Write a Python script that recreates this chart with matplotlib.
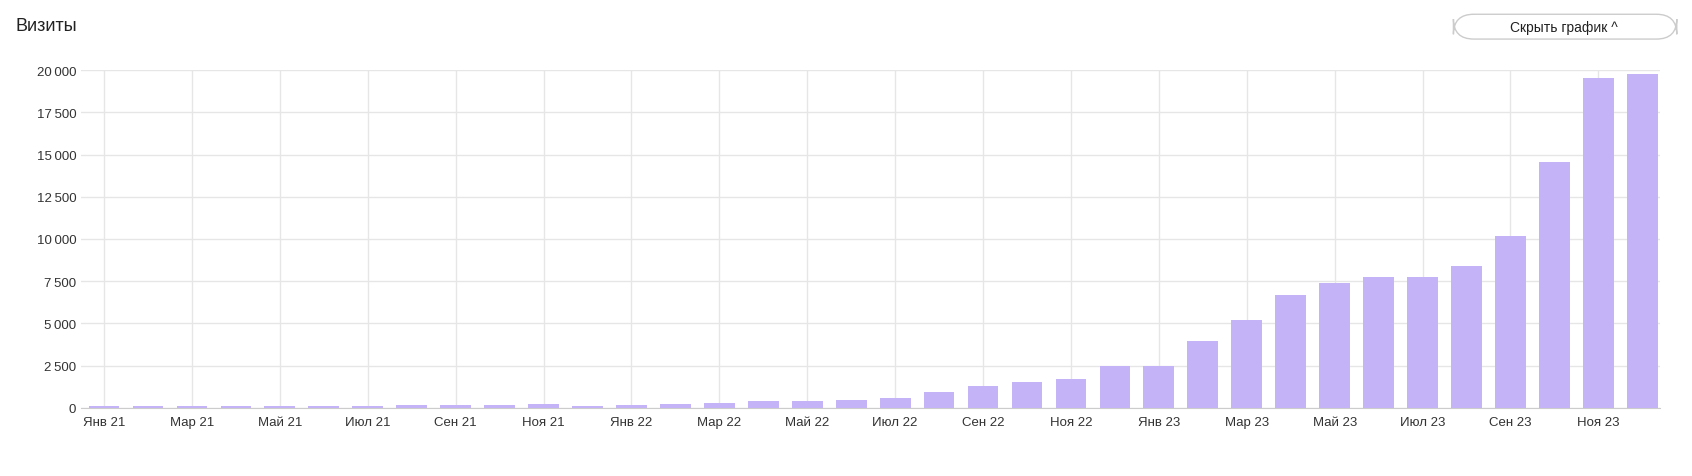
import matplotlib
matplotlib.use('Agg')
import matplotlib.pyplot as plt
from matplotlib.patches import FancyBboxPatch

# ---- data ----
months = ['Янв', 'Фев', 'Мар', 'Апр', 'Май', 'Июн', 'Июл', 'Авг', 'Сен', 'Окт', 'Ноя', 'Дек']
years = ['21', '22', '23']
labels = [f'{m} {y}' for y in years for m in months]
visits = [100, 100, 100, 100, 100, 100, 120, 180, 170, 170, 230, 130,
          170, 200, 300, 380, 430, 480, 600, 950, 1300, 1500, 1700, 2450,
          2500, 3950, 5180, 6700, 7400, 7720, 7720, 8370, 10150, 14580, 19550, 19740]
yticks = [0, 2500, 5000, 7500, 10000, 12500, 15000, 17500, 20000]

plt.rcParams['font.family'] = ['Arial', 'Liberation Sans', 'DejaVu Sans']
fig = plt.figure(figsize=(16.92, 4.77), dpi=100)
ax = fig.add_axes([0.048, 0.143, 0.933, 0.708])

x = list(range(len(visits)))
ax.bar(x, visits, width=0.7, color='#c4b3f7', zorder=3)

ax.set_xlim(-0.52, 35.4)
ax.set_ylim(0, 20000)
ax.set_yticks(yticks)
ax.set_yticklabels([f'{v:,}'.replace(',', '\u2009') if v else '0' for v in yticks])
ax.set_xticks(x[::2])
ax.set_xticklabels(labels[::2])
ax.tick_params(axis='both', length=0, labelsize=9.5, colors='#333333')
ax.tick_params(axis='x', pad=6)
ax.grid(True, color='#e6e6e6', lw=1, zorder=0)
for s in ['top', 'right', 'left']:
    ax.spines[s].set_visible(False)
ax.spines['bottom'].set_color('#cccccc')

fig.text(0.009, 0.945, 'Визиты', fontsize=13, color='#222222', va='center')
btn = FancyBboxPatch((0.859, 0.916), 0.132, 0.052, boxstyle='round,pad=0,rounding_size=0.012',
                     transform=fig.transFigure, facecolor='white', edgecolor='#cccccc', lw=1,
                     mutation_aspect=3.5)
fig.patches.append(btn)
fig.text(0.924, 0.942, 'Скрыть график ^', fontsize=10, color='#222222', ha='center', va='center')

fig.savefig('out.png', dpi=100)
